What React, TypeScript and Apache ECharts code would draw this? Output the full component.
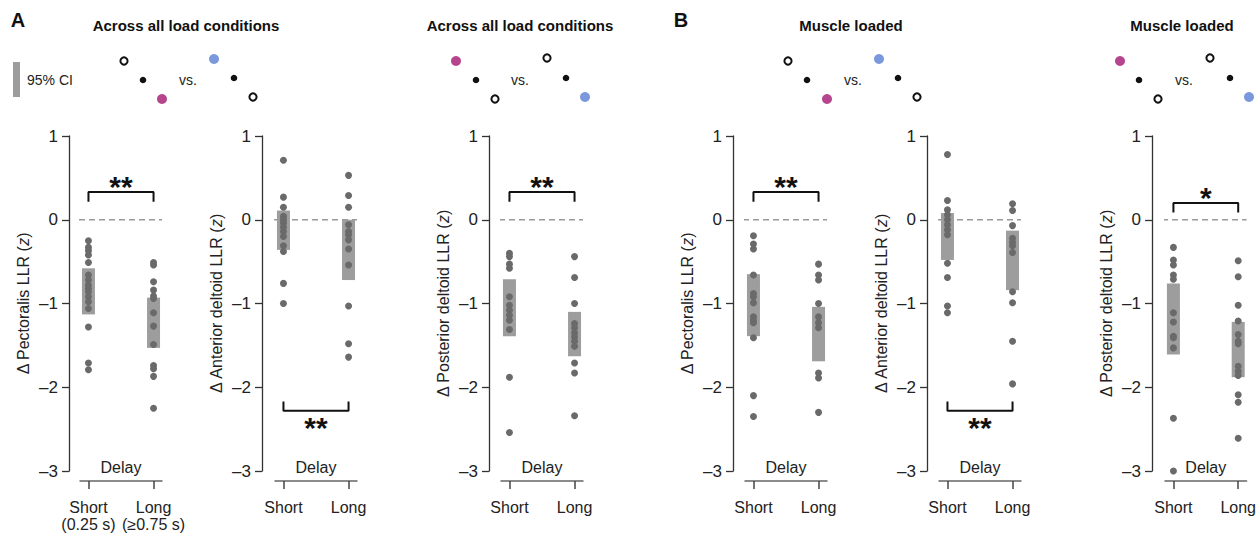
import { useEffect, useRef } from 'react';
import * as echarts from 'echarts';

const FONT = "'Liberation Sans', Arial, sans-serif";

// tick labels
const delayTicks = ['Short', 'Long'];
const delayTicksFirst = ['Short\n(0.25 s)', 'Long\n(≥0.75 s)'];

// Across all load conditions
const pecShortAll = [-0.25, -0.33, -0.37, -0.42, -0.51, -0.66, -0.72, -0.78, -0.82, -0.86, -0.92, -0.98, -1.06, -1.28, -1.71, -1.79];
const pecLongAll = [-0.51, -0.54, -0.74, -0.84, -0.91, -0.94, -1.11, -1.27, -1.49, -1.74, -1.78, -1.87, -2.25];
const pecCIAll = [[-0.58, -1.13], [-0.93, -1.53]];

const adShortAll = [0.71, 0.27, 0.15, 0.04, 0.0, -0.04, -0.09, -0.14, -0.2, -0.31, -0.38, -0.76, -1.0];
const adLongAll = [0.53, 0.29, 0.15, -0.06, -0.14, -0.18, -0.24, -0.35, -0.54, -1.03, -1.48, -1.64];
const adCIAll = [[0.11, -0.36], [0.0, -0.72]];

const pdShortAll = [-0.4, -0.44, -0.53, -0.58, -0.92, -1.02, -1.08, -1.14, -1.2, -1.31, -1.88, -2.54];
const pdLongAll = [-0.44, -0.69, -1.0, -1.24, -1.29, -1.35, -1.4, -1.45, -1.51, -1.71, -1.83, -2.34];
const pdCIAll = [[-0.71, -1.39], [-1.1, -1.63]];

// Muscle loaded
const pecShortLoad = [-0.19, -0.29, -0.35, -0.66, -0.88, -0.92, -0.99, -1.16, -1.2, -1.23, -1.41, -2.1, -2.35];
const pecLongLoad = [-0.53, -0.66, -0.72, -1.0, -1.16, -1.23, -1.29, -1.83, -1.89, -2.3];
const pecCILoad = [[-0.65, -1.39], [-1.04, -1.69]];

const adShortLoad = [0.78, 0.23, 0.12, 0.06, 0.0, -0.06, -0.12, -0.18, -0.52, -0.69, -1.03, -1.11];
const adLongLoad = [0.19, 0.11, -0.07, -0.22, -0.27, -0.31, -0.39, -0.86, -0.99, -1.45, -1.96];
const adCILoad = [[0.08, -0.48], [-0.13, -0.84]];

const pdShortLoad = [-0.33, -0.48, -0.54, -0.66, -0.71, -1.11, -1.22, -1.39, -1.41, -1.53, -2.37, -3.0];
const pdLongLoad = [-0.49, -0.68, -1.02, -1.21, -1.37, -1.45, -1.48, -1.75, -1.81, -1.86, -2.09, -2.18, -2.61];
const pdCILoad = [[-0.76, -1.61], [-1.22, -1.88]];

// significance brackets: bar level, leg end, star centre, stars
const sigUp = { bar: 0.33, leg: 0.215, star: 0.47, text: '**' };
const sigDown = { bar: -2.28, leg: -2.17, star: -2.41, text: '**' };
const sigUpOne = { bar: 0.2, leg: 0.087, star: 0.34, text: '*' };

const panels = [
  { muscle: 'Pectoralis', short: pecShortAll, long: pecLongAll, ci: pecCIAll, left: 80, off: 11, sig: sigUp, ticks: delayTicksFirst },
  { muscle: 'Anterior deltoid', short: adShortAll, long: adLongAll, ci: adCIAll, left: 275, off: 13, sig: sigDown, ticks: delayTicks },
  { muscle: 'Posterior deltoid', short: pdShortAll, long: pdLongAll, ci: pdCIAll, left: 501, off: 12, sig: sigUp, ticks: delayTicks },
  { muscle: 'Pectoralis', short: pecShortLoad, long: pecLongLoad, ci: pecCILoad, left: 745, off: 12, sig: sigUp, ticks: delayTicks },
  { muscle: 'Anterior deltoid', short: adShortLoad, long: adLongLoad, ci: adCILoad, left: 939, off: 12, sig: sigDown, ticks: delayTicks },
  { muscle: 'Posterior deltoid', short: pdShortLoad, long: pdLongLoad, ci: pdCILoad, left: 1165, off: 13, sig: sigUpOne, ticks: delayTicks },
];

const X_MIN = -0.13;
const X_MAX = 1.13;
const GRID_W = 82;
const GRID_TOP = 136;
const GRID_H = 335;
const STAR_SIZE = 30;

const MAGENTA = '#b5468e';
const BLUE = '#7b98dc';

// header icon groups: [x, y, kind]
const iconGroups: [number, number, string][][] = [
  [[124, 61, 'o'], [143, 80, 'k'], [162, 99, 'm'], [214, 59, 'b'], [234, 78, 'k'], [253, 97, 'o']],
  [[456, 61, 'm'], [476, 80, 'k'], [495, 99, 'o'], [547, 58, 'o'], [566, 78, 'k'], [585, 97, 'b']],
  [[788, 61, 'o'], [807, 80, 'k'], [827, 99, 'm'], [879, 59, 'b'], [898, 78, 'k'], [917, 97, 'o']],
  [[1120, 61, 'm'], [1139, 80, 'k'], [1158, 99, 'o'], [1210, 58, 'o'], [1230, 78, 'k'], [1249, 97, 'b']],
];
const vsPos = [[188, 80], [520, 80], [853, 80], [1184, 80]];
const titles = [
  ['Across all load conditions', 186],
  ['Across all load conditions', 520],
  ['Muscle loaded', 851],
  ['Muscle loaded', 1182],
];

function fmtY(v: number) {
  return v < 0 ? '–' + Math.abs(v) : String(v);
}

export default function App() {
  const ref = useRef<HTMLDivElement>(null);
  useEffect(() => {
    if (!ref.current) return;
    const chart = echarts.init(ref.current, undefined, { renderer: 'svg' });

    const grid = panels.map((p) => ({ left: p.left, top: GRID_TOP, width: GRID_W, height: GRID_H }));

    const xAxis = panels.map((p, i) => ({
      type: 'value',
      gridIndex: i,
      min: X_MIN,
      max: X_MAX,
      position: 'bottom',
      offset: 10,
      name: 'Delay',
      nameLocation: 'middle',
      nameGap: -22,
      nameTextStyle: { fontFamily: FONT, fontSize: 16, color: '#222' },
      axisLine: { show: true, onZero: false, lineStyle: { color: '#666', width: 1.5 } },
      axisTick: { show: true, customValues: [0, 1], length: 8, lineStyle: { color: '#444', width: 1.5 } },
      axisLabel: {
        show: true,
        customValues: [0, 1],
        showMinLabel: true,
        showMaxLabel: true,
        hideOverlap: false,
        formatter: (v: number) => p.ticks[Math.round(v)],
        margin: 18,
        fontFamily: FONT,
        fontSize: 16,
        lineHeight: 17,
        color: '#222',
      },
      splitLine: { show: false },
    }));

    const yAxis = panels.map((p, i) => ({
      type: 'value',
      gridIndex: i,
      min: -3,
      max: 1,
      interval: 1,
      offset: p.off,
      name: `{n|Δ ${p.muscle} LLR (}{i|z}{n|)}`,
      nameLocation: 'middle',
      nameGap: 38,
      nameTextStyle: {
        fontFamily: FONT,
        fontSize: 16,
        color: '#222',
        rich: {
          n: { fontFamily: FONT, fontSize: 16, color: '#222' },
          i: { fontFamily: FONT, fontSize: 16, color: '#222', fontStyle: 'italic' },
        },
      },
      axisLine: { show: true, onZero: false, lineStyle: { color: '#333', width: 1.3 } },
      axisTick: { show: true, length: 7, lineStyle: { color: '#333', width: 1.3 } },
      axisLabel: { margin: 11, formatter: fmtY, fontFamily: FONT, fontSize: 17, color: '#222' },
      splitLine: { show: false },
    }));

    const series: any[] = [];
    panels.forEach((p, i) => {
      const xStart = X_MIN - (p.off / GRID_W) * (X_MAX - X_MIN);
      series.push({
        type: 'line',
        xAxisIndex: i,
        yAxisIndex: i,
        data: [[xStart, 0], [X_MAX, 0]],
        symbol: 'none',
        clip: false,
        silent: true,
        z: 1,
        lineStyle: { color: '#9a9a9a', width: 1.5, type: [6, 4] },
      });
      series.push({
        type: 'custom',
        xAxisIndex: i,
        yAxisIndex: i,
        z: 2,
        data: p.ci.map((c, j) => [j, c[0], c[1]]),
        encode: { x: 0, y: [1, 2] },
        renderItem: (_params: any, api: any) => {
          const x = api.value(0);
          const a = api.coord([x, api.value(1)]);
          const b = api.coord([x, api.value(2)]);
          return {
            type: 'rect',
            shape: { x: a[0] - 6.5, y: a[1], width: 13, height: b[1] - a[1] },
            style: { fill: '#9d9d9d' },
          };
        },
      });
      series.push({
        type: 'scatter',
        xAxisIndex: i,
        yAxisIndex: i,
        z: 3,
        symbolSize: 7,
        itemStyle: { color: '#6a6a6a', opacity: 1 },
        data: [...p.short.map((v) => [0, v]), ...p.long.map((v) => [1, v])],
      });
      series.push({
        type: 'line',
        xAxisIndex: i,
        yAxisIndex: i,
        z: 4,
        symbol: 'none',
        clip: false,
        silent: true,
        lineStyle: { color: '#111', width: 2 },
        data: [[0, p.sig.leg], [0, p.sig.bar], [1, p.sig.bar], [1, p.sig.leg]],
      });
      series.push({
        type: 'custom',
        xAxisIndex: i,
        yAxisIndex: i,
        z: 5,
        silent: true,
        clip: false,
        data: [[0.5, p.sig.star]],
        encode: { x: 0, y: 1 },
        renderItem: (_params: any, api: any) => {
          const c = api.coord([api.value(0), api.value(1)]);
          return {
            type: 'text',
            x: c[0],
            // asterisk glyphs sit high in the em box; shift so the glyph centre lands on the anchor
            y: c[1] - STAR_SIZE * 0.3,
            style: {
              text: p.sig.text,
              fontFamily: FONT,
              fontSize: STAR_SIZE,
              fontWeight: 'bold',
              fill: '#111',
              textAlign: 'center',
              textVerticalAlign: 'top',
            },
          };
        },
      });
    });

    const graphic: any[] = [];
    titles.forEach(([t, x]) => {
      graphic.push({
        type: 'text',
        x: x as number,
        y: 25,
        style: {
          text: t as string,
          fontFamily: FONT,
          fontSize: 15,
          fontWeight: 'bold',
          fill: '#111',
          textAlign: 'center',
          textVerticalAlign: 'middle',
        },
      });
    });
    [['A', 18], ['B', 681]].forEach(([t, x]) => {
      graphic.push({
        type: 'text',
        x: x as number,
        y: 20,
        style: {
          text: t as string,
          fontFamily: FONT,
          fontSize: 20,
          fontWeight: 'bold',
          fill: '#111',
          textAlign: 'center',
          textVerticalAlign: 'middle',
        },
      });
    });
    graphic.push({ type: 'rect', shape: { x: 13, y: 62, width: 7, height: 35 }, style: { fill: '#9d9d9d' } });
    graphic.push({
      type: 'text',
      x: 27,
      y: 80,
      style: { text: '95% CI', fontFamily: FONT, fontSize: 14, fill: '#222', textAlign: 'left', textVerticalAlign: 'middle' },
    });
    vsPos.forEach(([x, y]) => {
      graphic.push({
        type: 'text',
        x,
        y,
        style: { text: 'vs.', fontFamily: FONT, fontSize: 14, fill: '#222', textAlign: 'center', textVerticalAlign: 'middle' },
      });
    });
    iconGroups.forEach((g) => {
      g.forEach(([cx, cy, k]) => {
        if (k === 'o') {
          graphic.push({ type: 'circle', shape: { cx, cy, r: 3.6 }, style: { fill: '#fff', stroke: '#111', lineWidth: 2 } });
        } else if (k === 'k') {
          graphic.push({ type: 'circle', shape: { cx, cy, r: 3.3 }, style: { fill: '#111' } });
        } else {
          graphic.push({ type: 'circle', shape: { cx, cy, r: 5 }, style: { fill: k === 'm' ? MAGENTA : BLUE } });
        }
      });
    });

    chart.setOption({
      animation: false,
      backgroundColor: '#fff',
      grid,
      xAxis,
      yAxis,
      series,
      graphic,
    });
    return () => chart.dispose();
  }, []);
  return <div ref={ref} style={{ position: 'fixed', left: 0, top: 0, width: 1259, height: 540 }} />;
}
